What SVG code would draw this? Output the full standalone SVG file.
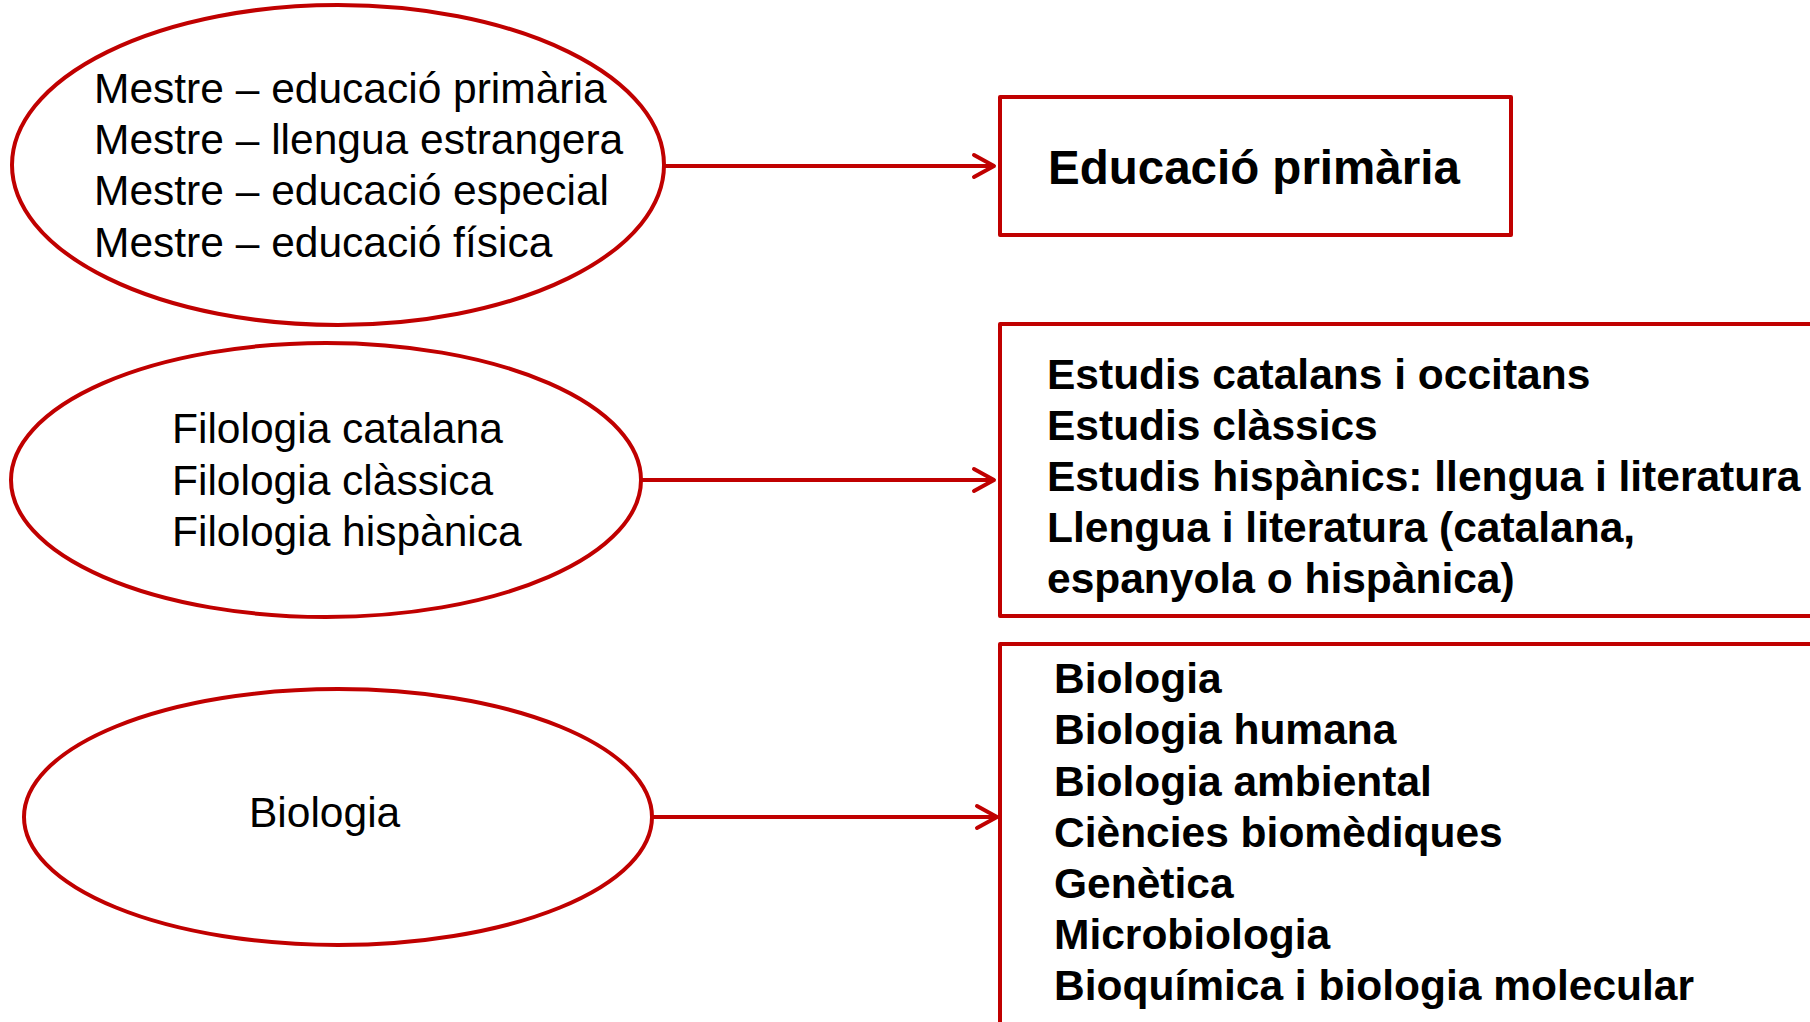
<svg xmlns="http://www.w3.org/2000/svg" width="1810" height="1022" viewBox="0 0 1810 1022">
<style>
.shape{fill:#fff;stroke:#C00000;stroke-width:4;stroke-linejoin:round}
.conn{fill:none;stroke:#C00000;stroke-width:4}
.reg{font-family:"Liberation Sans",Arial,sans-serif;font-size:42.5px;fill:#000}
.bold{font-family:"Liberation Sans",Arial,sans-serif;font-size:42.5px;font-weight:bold;fill:#000}
</style>
<defs>
<marker id="arr" markerUnits="userSpaceOnUse" markerWidth="30" markerHeight="30" viewBox="-24 -15 30 30" refX="0" refY="0" orient="auto">
<path d="M-20,-11 L0,0 L-20,11" fill="none" stroke="#C00000" stroke-width="4" stroke-linecap="round" stroke-linejoin="round"/>
</marker>
</defs>
<rect width="1810" height="1022" fill="#fff"/>
<g id="connectors">
<line class="conn" x1="665" y1="166" x2="994" y2="166" marker-end="url(#arr)"/>
<line class="conn" x1="641" y1="480" x2="994" y2="480" marker-end="url(#arr)"/>
<line class="conn" x1="652" y1="817" x2="997" y2="817" marker-end="url(#arr)"/>
</g>
<g id="ell1">
<ellipse class="shape" cx="338" cy="165" rx="326" ry="160"/>
<text class="reg" x="94" y="103">Mestre – educació primària</text>
<text class="reg" x="94" y="154">Mestre – llengua estrangera</text>
<text class="reg" x="94" y="205">Mestre – educació especial</text>
<text class="reg" x="94" y="257">Mestre – educació física</text>
</g>
<g id="ell2">
<ellipse class="shape" cx="326" cy="480" rx="315" ry="137"/>
<text class="reg" x="172" y="443">Filologia catalana</text>
<text class="reg" x="172" y="495">Filologia clàssica</text>
<text class="reg" x="172" y="546">Filologia hispànica</text>
</g>
<g id="ell3">
<ellipse class="shape" cx="338" cy="817" rx="314" ry="128"/>
<text class="reg" x="249" y="827">Biologia</text>
</g>
<g id="box1">
<rect class="shape" x="1000" y="97" width="511" height="138"/>
<text class="bold" x="1048" y="184" style="font-size:47.5px">Educació primària</text>
</g>
<g id="box2">
<rect class="shape" x="1000" y="324" width="830" height="292"/>
<text class="bold" x="1047" y="389">Estudis catalans i occitans</text>
<text class="bold" x="1047" y="440">Estudis clàssics</text>
<text class="bold" x="1047" y="491">Estudis hispànics: llengua i literatura</text>
<text class="bold" x="1047" y="542">Llengua i literatura (catalana,</text>
<text class="bold" x="1047" y="593">espanyola o hispànica)</text>
</g>
<g id="box3">
<rect class="shape" x="1000" y="644" width="830" height="400"/>
<text class="bold" x="1054" y="693">Biologia</text>
<text class="bold" x="1054" y="744">Biologia humana</text>
<text class="bold" x="1054" y="796">Biologia ambiental</text>
<text class="bold" x="1054" y="847">Ciències biomèdiques</text>
<text class="bold" x="1054" y="898">Genètica</text>
<text class="bold" x="1054" y="949">Microbiologia</text>
<text class="bold" x="1054" y="1000">Bioquímica i biologia molecular</text>
</g>
</svg>
